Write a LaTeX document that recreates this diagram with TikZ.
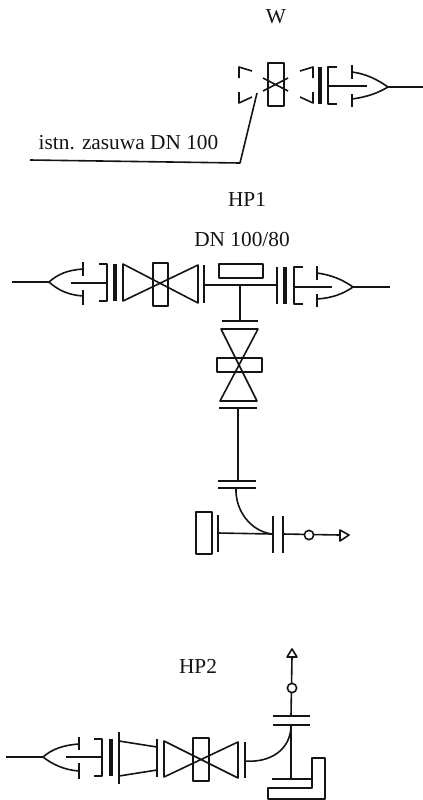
\documentclass[tikz,border=0pt]{standalone}
\usepackage{fontspec}
\setmainfont{Liberation Serif}
\tikzset{
  px/.style={x=0.75pt,y=-0.75pt},
  pipe/.style={draw=black!92,line width=1.2pt,line join=round},
  thick bar/.style={draw=black!92,line width=2.8pt},
  lbl/.style={inner sep=0pt,font=\fontsize{16}{18}\selectfont,text=black!92},
  tip/.style={draw=black!92,line width=1.2pt,fill=white,circle,inner sep=0pt,minimum size=7pt}
}
\begin{document}
\begin{tikzpicture}[px]
\useasboundingbox (0,0) rectangle (423,800);
% labels
\node[lbl] (w) at (276,17) {W};
\node[lbl] (ex) at (128.5,143) {istn. zasuwa DN 100};
\node[lbl] (hpa) at (247,199) {HP1};
\node[lbl] (dn) at (242,240) {DN 100/80};
\node[lbl] (hpb) at (198,666) {HP2};
% W
\draw[pipe] (239,78)--(239,67)--(252,71) (239,92)--(239,103)--(252,97);
\draw[pipe] (268,63) rectangle (284,106);
\draw[pipe] (263,78)--(288,91) (263,91)--(288,78);
\draw[pipe] (300,71)--(313,67)--(313,78) (300,97)--(313,103)--(313,92);
\draw[thick bar] (320,67)--(320,104);
\draw[pipe] (337,67)--(328,67)--(328,104)--(337,104);
\draw[pipe] (328,86)--(367,86);
\draw[pipe] (352,65)--(352,79) (352,94)--(352,107);
\draw[pipe] (352,72) .. controls (367,74) and (378,80) .. (388,87) .. controls (378,93) and (367,97) .. (352,99);
\draw[pipe] (388,87)--(423,87);
\draw[pipe] (30,160)--(240,163)--(257,93);
% HP1 horizontal
\draw[pipe] (12,282)--(49,282);
\draw[pipe] (83,269) .. controls (68,270) and (58,274) .. (49,282) .. controls (58,290) and (68,295) .. (83,296);
\draw[pipe] (83,262)--(83,276) (83,290)--(83,305);
\draw[pipe] (71,283)--(107,283);
\draw[pipe] (99,264)--(107,264)--(107,301)--(99,301);
\draw[thick bar] (115,264)--(115,301);
\draw[pipe] (123,264)--(198,303)--(198,265)--(123,301)--cycle;
\draw[pipe] (153,263) rectangle (168,306);
\draw[pipe] (204,265)--(204,303);
\draw[pipe] (204,285)--(277,285);
\draw[pipe] (219,264) rectangle (263,278);
\draw[pipe] (277,267)--(277,304);
\draw[thick bar] (285,267)--(285,304);
\draw[pipe] (303,267)--(294,267)--(294,304)--(303,304);
\draw[pipe] (294,287)--(332,287);
\draw[pipe] (317,266)--(317,280) (317,294)--(317,307);
\draw[pipe] (317,273) .. controls (332,275) and (343,280) .. (353,287) .. controls (343,294) and (332,298) .. (317,299);
\draw[pipe] (353,287)--(390,287);
% HP1 vertical
\draw[pipe] (240,285)--(240,321);
\draw[pipe] (222,321)--(258,321);
\draw[pipe] (221,329)--(258,329)--(220,401)--(257,401)--cycle;
\draw[pipe] (217,358) rectangle (262,372);
\draw[pipe] (219,408)--(257,408);
\draw[pipe] (238,408)--(238,481);
\draw[pipe] (218,481)--(256,481) (218,488)--(256,488);
\draw[pipe] (236,488) .. controls (235,510) and (250,531) .. (272,534);
\draw[pipe] (218,533)--(272,534);
\draw[pipe] (218,515)--(218,552);
\draw[pipe] (196,512) rectangle (212,554);
\draw[pipe] (273,516)--(273,553) (283,516)--(283,553);
\draw[pipe] (283,534)--(340,535);
\node[tip] (ca) at (309,535) {};
\draw[pipe,fill=white] (340,530)--(349,535)--(340,541)--cycle;
% HP2
\draw[pipe] (6,757)--(43,757);
\draw[pipe] (79,744) .. controls (64,745) and (52,749) .. (43,757) .. controls (52,764) and (64,770) .. (79,771);
\draw[pipe] (79,737)--(79,750) (79,763)--(79,779);
\draw[pipe] (66,757)--(101,757);
\draw[pipe] (94,739)--(102,739)--(102,776)--(94,776);
\draw[thick bar] (111,739)--(111,776);
\draw[pipe] (119,732)--(119,784);
\draw[pipe] (119,741)--(157,747) (119,776)--(157,770);
\draw[pipe] (157,739)--(157,777);
\draw[pipe] (164,741)--(238,778)--(238,742)--(164,777)--cycle;
\draw[pipe] (193,738) rectangle (209,781);
\draw[pipe] (245,742)--(245,778);
\draw[pipe] (245,761) .. controls (270,763) and (290,750) .. (291,727);
\draw[pipe] (291,725)--(291,779);
\draw[pipe] (273,716)--(310,716) (273,725)--(310,725);
\draw[pipe] (291,716)--(292,657);
\node[tip] (cb) at (292,688) {};
\draw[pipe,fill=white] (292,649)--(297,657)--(287,657)--cycle;
\draw[pipe] (272,779)--(312,779);
\draw[pipe] (312,779)--(312,758)--(325,758)--(325,799)--(268,799)--(268,788)--(312,788)--(312,779);
\end{tikzpicture}
\end{document}
